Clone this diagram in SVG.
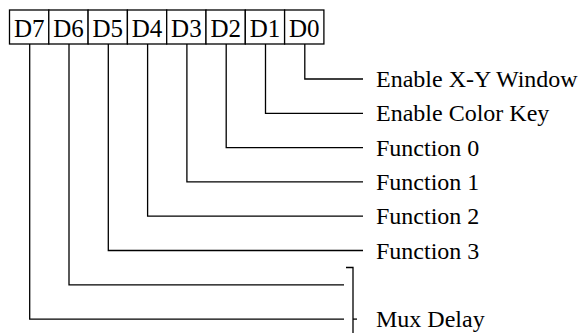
<svg xmlns="http://www.w3.org/2000/svg" width="580" height="333" viewBox="0 0 580 333">
<style>
.ln{fill:none;stroke:#000;stroke-width:1.3;stroke-linecap:butt}
.cell{fill:#fff;stroke:#000;stroke-width:1.3}
.bt{font-family:"Liberation Serif","Times New Roman",serif;font-size:25px;fill:#000;text-anchor:middle}
.lb{font-family:"Liberation Serif","Times New Roman",serif;font-size:24px;fill:#000}
</style>
<rect width="580" height="333" fill="#fff"/>
<g id="register">
<g id="bit7"><rect class="cell" x="9.5" y="10" width="39.3" height="34"/><text class="bt" x="29.2" y="36.5">D7</text></g>
<g id="bit6"><rect class="cell" x="48.8" y="10" width="39.3" height="34"/><text class="bt" x="68.5" y="36.5">D6</text></g>
<g id="bit5"><rect class="cell" x="88.1" y="10" width="39.3" height="34"/><text class="bt" x="107.8" y="36.5">D5</text></g>
<g id="bit4"><rect class="cell" x="127.4" y="10" width="39.3" height="34"/><text class="bt" x="147.1" y="36.5">D4</text></g>
<g id="bit3"><rect class="cell" x="166.7" y="10" width="39.3" height="34"/><text class="bt" x="186.4" y="36.5">D3</text></g>
<g id="bit2"><rect class="cell" x="206" y="10" width="39.3" height="34"/><text class="bt" x="225.7" y="36.5">D2</text></g>
<g id="bit1"><rect class="cell" x="245.3" y="10" width="39.3" height="34"/><text class="bt" x="265" y="36.5">D1</text></g>
<g id="bit0"><rect class="cell" x="284.6" y="10" width="39.3" height="34"/><text class="bt" x="304.3" y="36.5">D0</text></g>
</g>
<g id="connectors">
<path class="ln" d="M304.8 44V79H363"/>
<path class="ln" d="M265.5 44V113.3H363"/>
<path class="ln" d="M226.2 44V147.6H363"/>
<path class="ln" d="M186.9 44V181.9H363"/>
<path class="ln" d="M147.6 44V216.2H363"/>
<path class="ln" d="M108.3 44V250.5H363"/>
<path class="ln" d="M69 44V284.8H344"/>
<path class="ln" d="M29.7 44V319.1H344"/>
<path class="ln" d="M346 267.5H353V333"/>
<path class="ln" d="M353 319.1H357"/>
</g>
<g id="labels">
<text class="lb" x="376" y="87">Enable X-Y Window</text>
<text class="lb" x="376" y="121.3">Enable Color Key</text>
<text class="lb" x="376" y="155.6">Function 0</text>
<text class="lb" x="376" y="189.9">Function 1</text>
<text class="lb" x="376" y="224.2">Function 2</text>
<text class="lb" x="376" y="258.5">Function 3</text>
<text class="lb" x="376" y="327">Mux Delay</text>
</g>
</svg>
